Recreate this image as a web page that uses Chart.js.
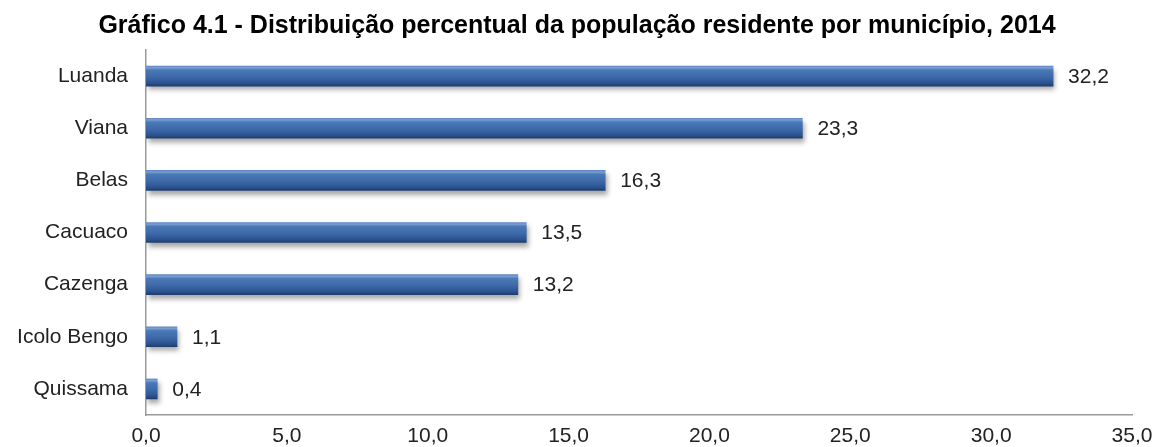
<!DOCTYPE html>
<html>
<head>
<meta charset="utf-8">
<script src="https://cdn.jsdelivr.net/npm/chart.js@4"></script>
<style>
  html, body { margin: 0; padding: 0; background: #fff; }
  #wrap { width: 1154px; height: 447px; }
</style>
</head>
<body>
<div id="wrap"><canvas id="myChart"></canvas></div>
<script>
const municipios = ['Luanda', 'Viana', 'Belas', 'Cacuaco', 'Cazenga', 'Icolo Bengo', 'Quissama'];
const percentagens = [32.2, 23.3, 16.3, 13.5, 13.2, 1.1, 0.4];
const xTicks = [0, 5, 10, 15, 20, 25, 30, 35];

const fontFamily = 'Arial, "Liberation Sans", sans-serif';
const fmt = v => v.toFixed(1).replace('.', ',');

// blue bevel look, gradient across each bar's height
function barFill(context) {
    const chart = context.chart;
    const y = chart.scales.y;
    if (!y || context.dataIndex === undefined) return '#3a66a5';
    const cy = y.getPixelForValue(context.dataIndex);
    if (!isFinite(cy)) return '#3a66a5';
    const g = chart.ctx.createLinearGradient(0, cy - 10, 0, cy + 10);
    g.addColorStop(0, '#5f87c0');
    g.addColorStop(0.08, '#7c9fd2');
    g.addColorStop(0.2, '#4b78b7');
    g.addColorStop(0.55, '#3d69a8');
    g.addColorStop(0.85, '#2b5290');
    g.addColorStop(1, '#1f3d6c');
    return g;
}

const barShadow = {
    id: 'barShadow',
    beforeDatasetDraw(chart) {
        const ctx = chart.ctx;
        ctx.save();
        ctx.shadowColor = 'rgba(0,0,0,0.35)';
        ctx.shadowBlur = 5;
        ctx.shadowOffsetX = 2;
        ctx.shadowOffsetY = 4;
    },
    afterDatasetDraw(chart) {
        chart.ctx.restore();
    }
};

const valueLabels = {
    id: 'valueLabels',
    afterDatasetsDraw(chart) {
        const ctx = chart.ctx;
        const meta = chart.getDatasetMeta(0);
        ctx.save();
        ctx.font = '21px ' + fontFamily;
        ctx.fillStyle = '#222';
        ctx.textBaseline = 'middle';
        ctx.textAlign = 'left';
        meta.data.forEach((bar, i) => {
            ctx.fillText(fmt(percentagens[i]), bar.x + 15, bar.y + 1);
        });
        ctx.restore();
    }
};

const ctx = document.getElementById('myChart').getContext('2d');
new Chart(ctx, {
    type: 'bar',
    data: {
        labels: municipios,
        datasets: [{
            data: percentagens,
            backgroundColor: barFill,
            borderWidth: 0,
            barThickness: 20
        }]
    },
    options: {
        indexAxis: 'y',
        responsive: true,
        maintainAspectRatio: false,
        animation: false,
        layout: { padding: 0 },
        plugins: {
            legend: { display: false },
            tooltip: { enabled: false },
            title: {
                display: true,
                text: 'Gráfico 4.1 - Distribuição percentual da população residente por município, 2014',
                color: '#000',
                font: { family: fontFamily, size: 25, weight: 'bold' },
                padding: { top: 11, bottom: 9 }
            }
        },
        scales: {
            x: {
                min: 0,
                max: 35,
                afterBuildTicks: scale => { scale.ticks = xTicks.map(v => ({ value: v })); },
                afterFit: scale => {
                    scale.height = 32;
                    scale.paddingRight = 22;
                },
                grid: { display: false, drawTicks: false },
                border: { color: '#9a9a9a', width: 1.5 },
                ticks: {
                    padding: 9,
                    color: '#222',
                    font: { family: fontFamily, size: 21 },
                    callback: v => fmt(v)
                }
            },
            y: {
                afterFit: scale => { scale.width = 146; },
                grid: { display: false, drawTicks: false },
                border: { color: '#9a9a9a', width: 1.5 },
                ticks: {
                    padding: 18,
                    color: '#222',
                    font: { family: fontFamily, size: 21 }
                }
            }
        }
    },
    plugins: [barShadow, valueLabels]
});
</script>
</body>
</html>
